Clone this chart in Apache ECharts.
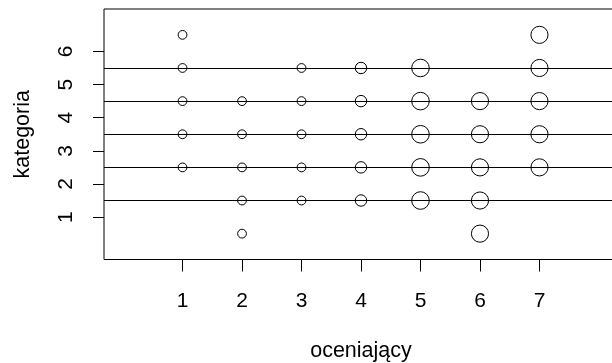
<!DOCTYPE html>
<html>
<head>
<meta charset="utf-8">
<script src="https://cdn.jsdelivr.net/npm/echarts@6/dist/echarts.min.js"></script>
<style>html,body{margin:0;padding:0;background:#fff}#c{width:612px;height:363px}</style>
</head>
<body>
<div id="c"></div>
<script>
// Data
const raters = [1, 2, 3, 4, 5, 6, 7];
const rater1 = [2.5, 3.5, 4.5, 5.5, 6.5];
const rater2 = [0.5, 1.5, 2.5, 3.5, 4.5];
const rater3 = [1.5, 2.5, 3.5, 4.5, 5.5];
const rater4 = [1.5, 2.5, 3.5, 4.5, 5.5];
const rater5 = [1.5, 2.5, 3.5, 4.5, 5.5];
const rater6 = [0.5, 1.5, 2.5, 3.5, 4.5];
const rater7 = [2.5, 3.5, 4.5, 5.5, 6.5];
const raterWeight = [1, 1, 1, 1.3, 2, 1.95, 1.95];
const categoryLines = [1.5, 2.5, 3.5, 4.5, 5.5];
const xTicks = [1, 2, 3, 4, 5, 6, 7];
const yTicks = [1, 2, 3, 4, 5, 6];

const allRaters = [rater1, rater2, rater3, rater4, rater5, rater6, rater7];
const baseSize = 8.8;
const points = [];
allRaters.forEach((vals, i) => {
  vals.forEach(v => points.push({value: [raters[i], v], symbolSize: baseSize * raterWeight[i]}));
});

const font = 'Liberation Sans, Arial, sans-serif';
const chart = echarts.init(document.getElementById('c'), null, {renderer: 'canvas'});
chart.setOption({
  animation: false,
  backgroundColor: '#fff',
  grid: {left: 104, right: -6, top: 9, bottom: 103.5, show: true, borderColor: '#000', borderWidth: 1, backgroundColor: 'transparent', containLabel: false, outerBoundsMode: 'none'},
  xAxis: {
    type: 'value', min: -0.32, max: 8.32,
    name: 'oceniający', nameLocation: 'middle', nameGap: 81,
    nameTextStyle: {fontFamily: font, fontSize: 21.5, color: '#000'},
    axisLine: {show: false, onZero: false},
    splitLine: {show: false},
    axisTick: {show: true, customValues: xTicks, length: 12, lineStyle: {color: '#000', width: 1}},
    axisLabel: {customValues: xTicks, margin: 31, fontFamily: font, fontSize: 21, color: '#000'}
  },
  yAxis: {
    type: 'value', min: -0.28, max: 7.28,
    name: 'kategoria', nameLocation: 'middle', nameGap: 70, nameRotate: 90,
    nameTextStyle: {fontFamily: font, fontSize: 21.5, color: '#000'},
    axisLine: {show: false, onZero: false},
    splitLine: {show: false},
    axisTick: {show: true, customValues: yTicks, length: 11, lineStyle: {color: '#000', width: 1}},
    axisLabel: {customValues: yTicks, rotate: 90, margin: 27, fontFamily: font, fontSize: 21, color: '#000'}
  },
  series: [
    {
      type: 'line', data: [], z: 1, silent: true,
      markLine: {
        silent: true, symbol: ['none', 'none'], label: {show: false},
        lineStyle: {color: '#000', width: 1, type: 'solid'},
        data: categoryLines.map(v => ({yAxis: v}))
      }
    },
    {
      type: 'scatter', z: 3, symbol: 'circle', data: points,
      itemStyle: {color: '#fff', borderColor: '#000', borderWidth: 1, opacity: 1}
    }
  ]
});
</script>
</body>
</html>
